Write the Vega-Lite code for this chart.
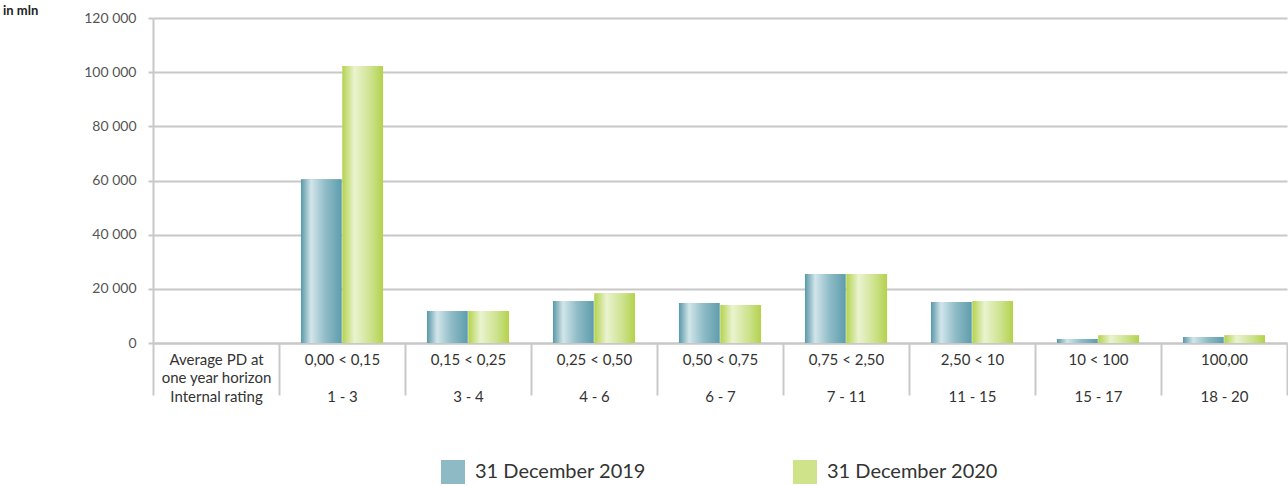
{
  "$schema": "https://vega.github.io/schema/vega-lite/v6.json",
  "width": 1134,
  "height": 325,
  "autosize": {"type": "none"},
  "padding": {"left": 153, "top": 18, "right": 1, "bottom": 143},
  "background": "white",
  "config": {"view": {"stroke": null}, "font": "Lato"},
  "title": {"text": "in mln", "anchor": "start", "frame": "group", "dx": -150, "dy": 13, "offset": 0, "baseline": "middle", "fontSize": 13, "fontWeight": "bold", "color": "#222222"},
  "data": {
    "values": [
      {"cat": "0,00 < 0,15|\u200b|1 - 3", "series": "31 December 2019", "value": 60500},
      {"cat": "0,00 < 0,15|\u200b|1 - 3", "series": "31 December 2020", "value": 102300},
      {"cat": "0,15 < 0,25|\u200b|3 - 4", "series": "31 December 2019", "value": 11800},
      {"cat": "0,15 < 0,25|\u200b|3 - 4", "series": "31 December 2020", "value": 11800},
      {"cat": "0,25 < 0,50|\u200b|4 - 6", "series": "31 December 2019", "value": 15500},
      {"cat": "0,25 < 0,50|\u200b|4 - 6", "series": "31 December 2020", "value": 18400},
      {"cat": "0,50 < 0,75|\u200b|6 - 7", "series": "31 December 2019", "value": 14800},
      {"cat": "0,50 < 0,75|\u200b|6 - 7", "series": "31 December 2020", "value": 14000},
      {"cat": "0,75 < 2,50|\u200b|7 - 11", "series": "31 December 2019", "value": 25500},
      {"cat": "0,75 < 2,50|\u200b|7 - 11", "series": "31 December 2020", "value": 25500},
      {"cat": "2,50 < 10|\u200b|11 - 15", "series": "31 December 2019", "value": 15100},
      {"cat": "2,50 < 10|\u200b|11 - 15", "series": "31 December 2020", "value": 15500},
      {"cat": "10 < 100|\u200b|15 - 17", "series": "31 December 2019", "value": 1500},
      {"cat": "10 < 100|\u200b|15 - 17", "series": "31 December 2020", "value": 2900},
      {"cat": "100,00|\u200b|18 - 20", "series": "31 December 2019", "value": 2200},
      {"cat": "100,00|\u200b|18 - 20", "series": "31 December 2020", "value": 2900}
    ]
  },
  "encoding": {
    "x": {
      "field": "cat",
      "type": "nominal",
      "scale": {
        "domain": [
          "Average PD at|one year horizon|Internal rating",
          "0,00 < 0,15|\u200b|1 - 3",
          "0,15 < 0,25|\u200b|3 - 4",
          "0,25 < 0,50|\u200b|4 - 6",
          "0,50 < 0,75|\u200b|6 - 7",
          "0,75 < 2,50|\u200b|7 - 11",
          "2,50 < 10|\u200b|11 - 15",
          "10 < 100|\u200b|15 - 17",
          "100,00|\u200b|18 - 20"
        ],
        "paddingInner": 0,
        "paddingOuter": 0
      },
      "axis": {
        "title": null,
        "domainColor": "#c8c8c8",
        "domainWidth": 2,
        "tickBand": "extent",
        "tickSize": 52,
        "tickColor": "#c8c8c8",
        "tickWidth": 2,
        "labelAngle": 0,
        "labelPadding": -43,
        "labelBaseline": "top",
        "labelLineHeight": 18.5,
        "labelLimit": 0,
        "labelColor": "#333333",
        "labelFontSize": 15,
        "labelExpr": "split(datum.label, '|')"
      }
    },
    "y": {
      "field": "value",
      "type": "quantitative",
      "scale": {"domain": [0, 120000], "nice": false},
      "axis": {
        "values": [0, 20000, 40000, 60000, 80000, 100000, 120000],
        "labelExpr": "datum.value == 0 ? '0' : format(datum.value / 1000, 'd') + ' 000'",
        "domainColor": "#c8c8c8",
        "domainWidth": 2,
        "tickSize": 5,
        "tickColor": "#c8c8c8",
        "tickWidth": 2,
        "gridColor": "#c8c8c8",
        "gridWidth": 2,
        "labelFontSize": 14,
        "labelColor": "#555555",
        "labelPadding": 12,
        "title": null
      }
    },
    "xOffset": {"field": "series", "type": "nominal", "scale": {"paddingInner": 0.02, "paddingOuter": 0.53}}
  },
  "layer": [
    {
      "mark": {"type": "bar", "strokeWidth": 0},
      "encoding": {
        "color": {
          "field": "series",
          "type": "nominal",
          "scale": {"range": ["#8dbac5", "#cfe38a"]},
          "legend": {
            "title": null,
            "orient": "none",
            "direction": "horizontal",
            "legendX": 288,
            "legendY": 442,
            "symbolType": "square",
            "symbolSize": 576,
            "symbolStrokeWidth": 0,
            "labelFontSize": 20,
            "labelColor": "#333333",
            "labelOffset": 10,
            "columnPadding": 147,
            "labelLimit": 0
          }
        }
      }
    },
    {
      "transform": [{"filter": "datum.series == '31 December 2019'"}],
      "mark": {
        "type": "bar",
        "strokeWidth": 0,
        "color": {"gradient": "linear", "x1": 0, "y1": 0, "x2": 1, "y2": 0, "stops": [
          {"offset": 0, "color": "#5a98a8"},
          {"offset": 0.25, "color": "#d2e5ea"},
          {"offset": 0.6, "color": "#8fbcc7"},
          {"offset": 1, "color": "#5f9dac"}
        ]}
      }
    },
    {
      "transform": [{"filter": "datum.series == '31 December 2020'"}],
      "mark": {
        "type": "bar",
        "strokeWidth": 0,
        "color": {"gradient": "linear", "x1": 0, "y1": 0, "x2": 1, "y2": 0, "stops": [
          {"offset": 0, "color": "#b4d350"},
          {"offset": 0.3, "color": "#eaf3cf"},
          {"offset": 0.7, "color": "#cde28d"},
          {"offset": 1, "color": "#b3d24c"}
        ]}
      }
    }
  ]
}
